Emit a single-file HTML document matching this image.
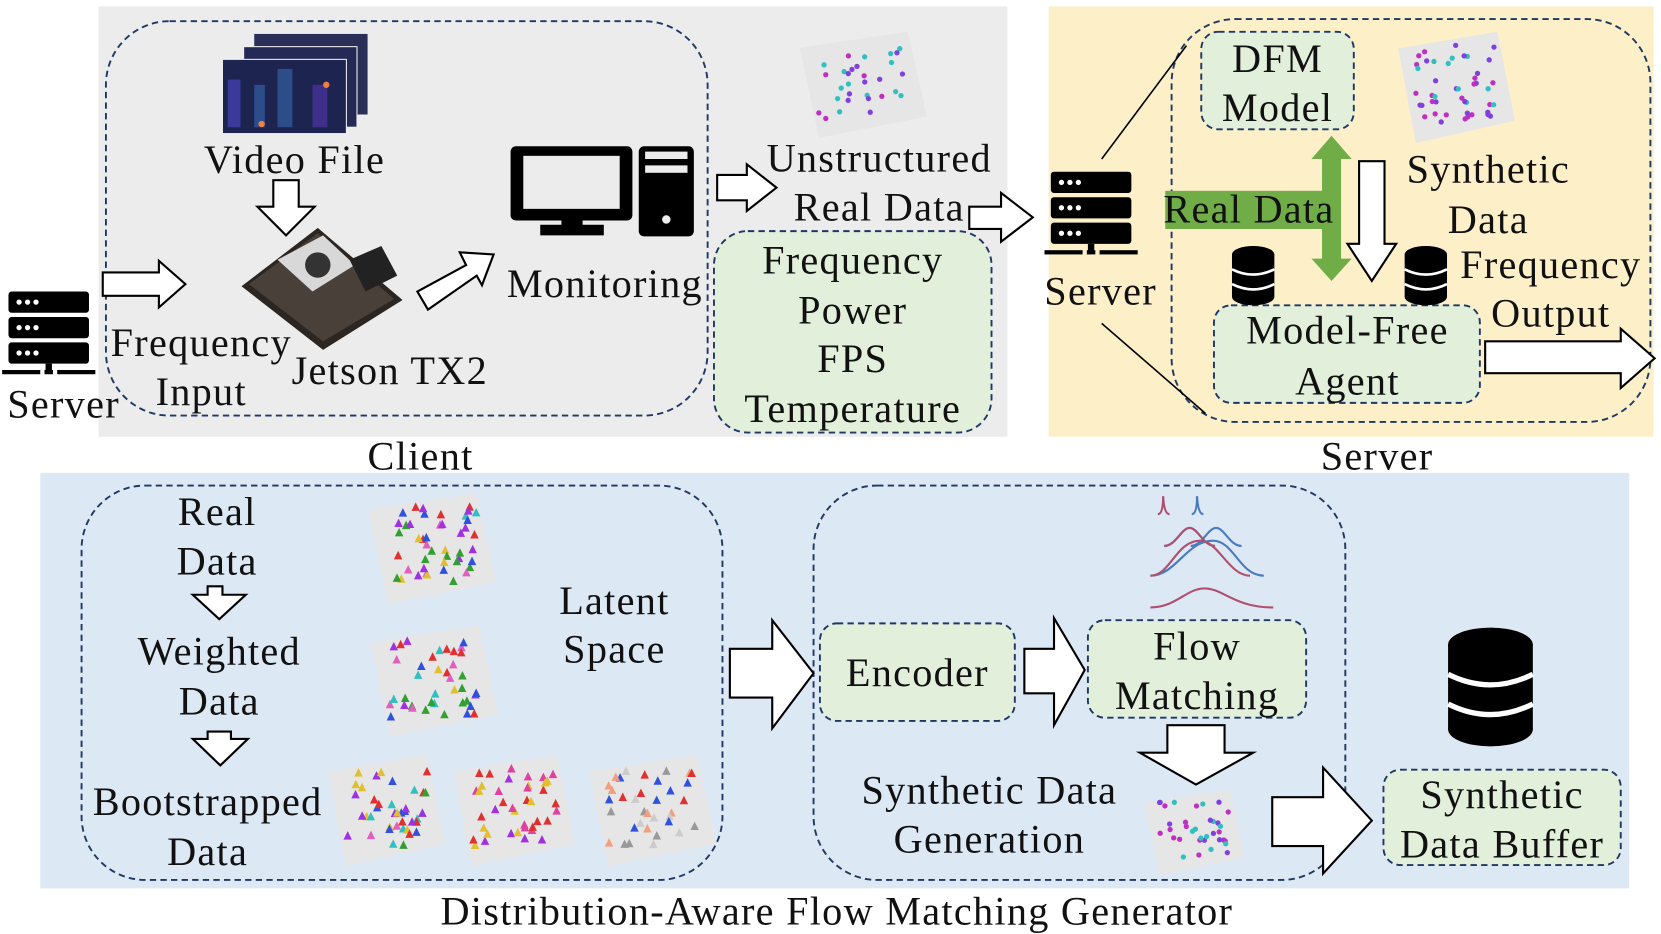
<!DOCTYPE html>
<html><head><meta charset="utf-8"><style>
html,body{margin:0;padding:0;background:#fff;}
svg{display:block}
text{font-family:"Liberation Serif",serif;font-size:38px;letter-spacing:1.2px;fill:#111;}
</style></head><body>
<svg id="s" width="1661" height="934" viewBox="0 0 1568 881" preserveAspectRatio="none" xmlns="http://www.w3.org/2000/svg">
<defs>
<g id="srv"><rect x="0" y="0" width="76" height="20" rx="3" fill="#000"/><rect x="0" y="24" width="76" height="20" rx="3" fill="#000"/><rect x="0" y="48" width="76" height="20" rx="3" fill="#000"/>
<circle cx="10" cy="10" r="2.5" fill="#fff"/><circle cx="18" cy="10" r="2.5" fill="#fff"/><circle cx="26" cy="10" r="2.5" fill="#fff"/>
<circle cx="10" cy="34" r="2.5" fill="#fff"/><circle cx="18" cy="34" r="2.5" fill="#fff"/><circle cx="26" cy="34" r="2.5" fill="#fff"/>
<circle cx="10" cy="58" r="2.5" fill="#fff"/><circle cx="18" cy="58" r="2.5" fill="#fff"/><circle cx="26" cy="58" r="2.5" fill="#fff"/>
<rect x="35" y="68" width="6" height="8" fill="#000"/><rect x="-6" y="74" width="36" height="4" fill="#000"/><rect x="34" y="74" width="8" height="4" fill="#000"/><rect x="46" y="74" width="36" height="4" fill="#000"/></g>
<g id="db"><ellipse cx="20" cy="8" rx="20" ry="8" fill="#000"/><rect x="0" y="8" width="40" height="40" fill="#000"/><ellipse cx="20" cy="48" rx="20" ry="8" fill="#000"/>
<path d="M0 22 Q20 32 40 22" stroke="#fff" stroke-width="2.5" fill="none"/><path d="M0 36 Q20 46 40 36" stroke="#fff" stroke-width="2.5" fill="none"/></g>
</defs>
<rect x="93" y="6" width="858" height="406" fill="#ececec"/>
<rect x="990" y="6" width="571" height="406" fill="#fdf0c9"/>
<rect x="38" y="446" width="1500" height="392" fill="#dde8f5"/>
<g fill="none" stroke="#1f3864" stroke-width="1.8" stroke-dasharray="6,4">
<rect x="100" y="20" width="568" height="372" rx="60"/>
<rect x="1106" y="18" width="452" height="380" rx="60"/>
<rect x="77" y="458" width="605" height="372" rx="60"/>
<rect x="768" y="458" width="502" height="372" rx="60"/>
</g>
<g fill="#e2efda" stroke="#1f3864" stroke-width="1.8" stroke-dasharray="6,4">
<rect x="674" y="218" width="262" height="190" rx="32"/>
<rect x="1134" y="30" width="144" height="92" rx="16"/>
<rect x="1146" y="288" width="251" height="92" rx="16"/>
<rect x="774" y="588" width="184" height="92" rx="16"/>
<rect x="1027" y="585" width="206" height="92" rx="16"/>
<rect x="1306" y="726" width="224" height="90" rx="16"/>
</g>
<rect x="240" y="32" width="107" height="76" fill="#2a2f5a"/>
<rect x="230" y="44" width="107" height="76" fill="#242a55" stroke="#eee"/>
<rect x="210" y="56" width="117" height="70" fill="#1e2450" stroke="#eee"/>
<rect x="215" y="75" width="12" height="45" fill="#3a3a9a"/><rect x="240" y="80" width="10" height="40" fill="#2c4c8a"/><rect x="262" y="65" width="14" height="55" fill="#2c4c8a"/><rect x="295" y="80" width="14" height="40" fill="#3d2f8a"/>
<circle cx="247" cy="117" r="3" fill="#f08040"/><circle cx="308" cy="80" r="3" fill="#f08040"/>
<polygon points="228,270 300,215 380,283 305,330" fill="#2b2622"/>
<polygon points="235,268 300,220 372,282 305,322" fill="#4a403a"/>
<polygon points="262,245 305,222 335,250 295,275" fill="#d8d8d8"/>
<circle cx="300" cy="250" r="12" fill="#333"/>
<polygon points="330,245 360,232 375,260 345,275" fill="#222"/>
<rect x="482" y="138" width="115" height="70" rx="5" fill="#000"/><rect x="494" y="147" width="91" height="50" fill="#ececec"/>
<rect x="530" y="205" width="20" height="12" fill="#000"/><rect x="510" y="212" width="60" height="10" fill="#000"/>
<rect x="603" y="138" width="52" height="85" rx="5" fill="#000"/><rect x="609" y="143" width="40" height="7" fill="#ececec"/><rect x="609" y="156" width="40" height="7" fill="#ececec"/><circle cx="629" cy="207" r="4" fill="#ececec"/>
<use href="#srv" x="8" y="275"/>
<use href="#srv" x="992" y="162"/>
<use href="#db" x="1163" y="232"/>
<use href="#db" x="1326" y="232"/>
<g transform="translate(1367,592) scale(2)"><use href="#db"/></g>
<g fill="#fff" stroke="#000" stroke-width="2">
<polygon points="97,257 150,257 150,246 175,268 150,290 150,279 97,279"/>
<polygon points="258,170 282,170 282,195 297,195 270,222 243,195 258,195"/>
<polygon points="394,275 440,250 434,238 466,240 455,269 450,260 404,292" />
<polygon points="677,165 705,165 705,155 733,177 705,199 705,189 677,189"/>
<polygon points="915,195 945,195 945,182 975,205 945,228 945,216 915,216"/>
<polygon points="1283,152 1307,152 1307,230 1318,230 1295,265 1272,230 1283,230"/>
<polygon points="1402,322 1530,322 1530,310 1562,338 1530,366 1530,352 1402,352"/>
<polygon points="182,561 196,561 196,553 210,553 210,561 232,561 207,584"/>
<polygon points="182,697 196,697 196,690 218,690 218,697 234,697 208,722"/>
<polygon points="689,612 729,612 729,585 768,635 729,687 729,658 689,658"/>
<polygon points="967,612 995,612 995,583 1024,632 995,684 995,654 967,654"/>
<polygon points="1102,684 1156,684 1156,710 1183,710 1129,740 1076,710 1102,710"/>
<polygon points="1201,752 1249,752 1249,724 1295,774 1249,824 1249,798 1201,798"/>
</g>
<rect x="1100" y="180" width="158" height="36" fill="#70ad47"/>
<polygon points="1257,128 1276,150 1266,150 1266,244 1276,244 1257,265 1238,244 1248,244 1248,150 1238,150" fill="#70ad47"/>
<line x1="1040" y1="150" x2="1120" y2="43" stroke="#000" stroke-width="1.5"/>
<line x1="1040" y1="305" x2="1138" y2="390" stroke="#000" stroke-width="1.5"/>
<g fill="none" stroke-width="2">
<path d="M1093 485 Q1098 485 1098 468 Q1099 485 1104 485" stroke="#b05070"/>
<path d="M1125 485 Q1130 485 1130 468 Q1131 485 1136 485" stroke="#4a7ac0"/>
<path d="M1149 545 C1160 545 1165 528 1173 528 C1181 528 1186 545 1197 545" stroke="#4a7ac0" transform="translate(-50,-30)"/>
<path d="M1149 545 C1160 545 1165 528 1173 528 C1181 528 1186 545 1197 545" stroke="#4a7ac0" transform="translate(-25,-30)"/>
<path d="M1099 515 C1110 515 1115 498 1123 498 C1131 498 1136 515 1147 515" stroke="#b05070"/>
<path d="M1086 543 C1110 543 1120 510 1145 510 C1165 510 1170 543 1193 543" stroke="#4a7ac0"/>
<path d="M1086 543 C1105 543 1110 510 1133 510 C1150 510 1160 543 1180 543" stroke="#b05070"/>
<path d="M1086 573 C1110 573 1120 555 1137 555 C1155 555 1165 573 1202 573" stroke="#b05070"/>
</g>
<g id="plots"></g>
<g text-anchor="middle">
<text x="278" y="163">Video File</text>
<text x="190" y="336">Frequency</text>
<text x="190" y="382">Input</text>
<text x="368" y="362">Jetson TX2</text>
<text x="60" y="394">Server</text>
<text x="571" y="280">Monitoring</text>
<text x="830" y="162">Unstructured</text>
<text x="830" y="208">Real Data</text>
<text x="805" y="258">Frequency</text>
<text x="805" y="305">Power</text>
<text x="805" y="351">FPS</text>
<text x="805" y="398">Temperature</text>
<text x="397" y="443">Client</text>
<text x="1039" y="287">Server</text>
<text x="1206" y="68">DFM</text>
<text x="1206" y="114">Model</text>
<text x="1179" y="210">Real Data</text>
<text x="1405" y="172">Synthetic</text>
<text x="1405" y="220">Data</text>
<text x="1464" y="262">Frequency</text>
<text x="1464" y="308">Output</text>
<text x="1272" y="324">Model-Free</text>
<text x="1272" y="372">Agent</text>
<text x="1300" y="443">Server</text>
<text x="205" y="495">Real</text>
<text x="205" y="542">Data</text>
<text x="207" y="627">Weighted</text>
<text x="207" y="674">Data</text>
<text x="196" y="769">Bootstrapped</text>
<text x="196" y="816">Data</text>
<text x="580" y="579">Latent</text>
<text x="580" y="625">Space</text>
<text x="866" y="647">Encoder</text>
<text x="1130" y="622">Flow</text>
<text x="1130" y="669">Matching</text>
<text x="934" y="758">Synthetic Data</text>
<text x="934" y="804">Generation</text>
<text x="1418" y="762">Synthetic</text>
<text x="1418" y="809">Data Buffer</text>
<text x="790" y="872">Distribution-Aware Flow Matching Generator</text>
</g>
</svg>
<script>
(function(){
var g=document.getElementById('plots'),ns='http://www.w3.org/2000/svg',seed=7;
function r(){seed=(seed*16807)%2147483647;return seed/2147483647;}
function plot(x,y,w,h,n,cols,tri){
 var p=document.createElementNS(ns,'polygon');
 p.setAttribute('points',(x)+','+(y+h*0.15)+' '+(x+w*0.85)+','+y+' '+(x+w)+','+(y+h*0.8)+' '+(x+w*0.15)+','+(y+h));
 p.setAttribute('fill','#e6e6e6');g.appendChild(p);
 for(var i=0;i<n;i++){var cx=x+w*(0.15+0.7*r()),cy=y+h*(0.12+0.7*r()),c=cols[Math.floor(r()*cols.length)],e;
  if(tri){e=document.createElementNS(ns,'polygon');e.setAttribute('points',(cx-4)+','+(cy+4)+' '+(cx+4)+','+(cy+4)+' '+cx+','+(cy-4));}
  else{e=document.createElementNS(ns,'circle');e.setAttribute('cx',cx);e.setAttribute('cy',cy);e.setAttribute('r',2.5);}
  e.setAttribute('fill',c);g.appendChild(e);}
}
var rb=['#e03030','#3050e0','#30c0c0','#e0c030','#a030e0','#30a030','#e060c0'];
plot(755,30,120,100,30,['#c030c0','#30c0c0','#8040e0'],false);
plot(1320,30,110,105,45,['#c030c0','#30c0c0','#8040e0'],false);
plot(348,465,120,105,45,rb,true);
plot(350,590,120,105,40,rb,true);
plot(310,712,110,105,40,rb,true);
plot(428,712,115,105,40,['#e040a0','#e0c030','#e03030','#a030e0'],true);
plot(556,712,120,105,35,['#ccc','#e03030','#3050e0','#f0a080','#999'],true);
plot(1080,745,95,80,35,['#c030c0','#30c0c0','#8040e0'],false);
})();
</script>
</body></html>
